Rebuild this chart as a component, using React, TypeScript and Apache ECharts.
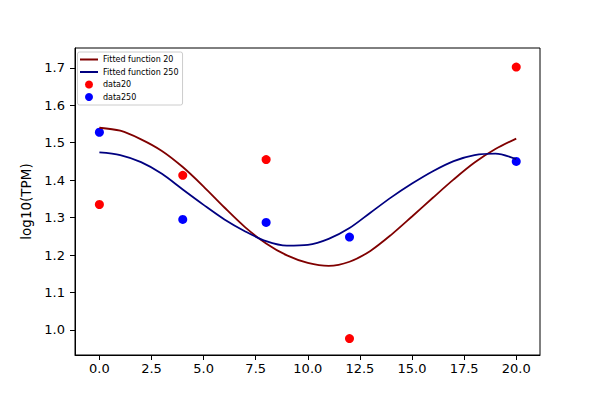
import React, { useEffect, useRef } from 'react';
import * as echarts from 'echarts';

// curve samples (hours 0..20)
const fitTimes = [0, 1, 2, 3, 4, 5, 6, 7, 8, 9, 10, 11, 12, 13, 14, 15, 16, 17, 18, 19, 20];
const fit20 = [1.540, 1.532, 1.509, 1.478, 1.435, 1.383, 1.327, 1.274, 1.231, 1.199, 1.179, 1.171, 1.182, 1.211, 1.254, 1.303, 1.353, 1.402, 1.447, 1.483, 1.511];
const fit250 = [1.474, 1.467, 1.448, 1.417, 1.375, 1.334, 1.295, 1.263, 1.237, 1.225, 1.227, 1.243, 1.272, 1.313, 1.354, 1.391, 1.424, 1.451, 1.467, 1.471, 1.456];

// measured points
const sampleTimes = [0, 4, 8, 12, 20];
const data20 = [1.335, 1.413, 1.455, 0.977, 1.702];
const data250 = [1.528, 1.295, 1.287, 1.248, 1.450];

const xTicks = [0, 2.5, 5, 7.5, 10, 12.5, 15, 17.5, 20];
const yTicks = [1.0, 1.1, 1.2, 1.3, 1.4, 1.5, 1.6, 1.7];

const FONT = 'DejaVu Sans';
// thin horizontal bar inside an 18x8 box (tiny corner marks keep the box size)
const LINE_ICON =
  'path://M0,0 L0.01,0 L0,0.01 Z M0,3.1 L18,3.1 L18,4.9 L0,4.9 Z M18,8 L17.99,8 L18,7.99 Z';

const App: React.FC = () => {
  const chartRef = useRef<HTMLDivElement>(null);

  useEffect(() => {
    document.body.style.margin = '0';
    if (!chartRef.current) return;
    const chart = echarts.init(chartRef.current, null, { renderer: 'svg' });

    const pair = (xs: number[], ys: number[]) => xs.map((x, i) => [x, ys[i]]);

    const option = {
      animation: false,
      backgroundColor: '#fff',
      textStyle: { fontFamily: FONT },
      grid: {
        left: 75,
        right: 60,
        top: 48,
        bottom: 45,
        show: true,
        borderColor: '#000',
        borderWidth: 1,
        backgroundColor: 'transparent'
      },
      legend: {
        orient: 'vertical',
        left: 77.5,
        top: 52,
        padding: [3.5, 4, 4, 2.5],
        itemWidth: 18,
        itemHeight: 8,
        itemGap: 4.5,
        borderColor: '#cccccc',
        borderWidth: 1,
        borderRadius: 2,
        backgroundColor: 'rgba(255,255,255,0.8)',
        textStyle: { fontSize: 8, color: '#000', fontFamily: FONT },
        data: [
          { name: 'Fitted function 20', icon: LINE_ICON },
          { name: 'Fitted function 250', icon: LINE_ICON },
          { name: 'data20', icon: 'circle' },
          { name: 'data250', icon: 'circle' }
        ]
      },
      xAxis: {
        type: 'value',
        min: -1.17,
        max: 21.14,
        splitLine: { show: false },
        axisLine: { show: true, onZero: false, lineStyle: { color: '#000', width: 1 } },
        axisTick: {
          show: true,
          inside: false,
          length: 5,
          lineStyle: { color: '#000', width: 1 },
          customValues: xTicks
        },
        axisLabel: {
          color: '#000',
          fontSize: 13,
          fontFamily: FONT,
          margin: 7,
          customValues: xTicks,
          formatter: (v: number) => v.toFixed(1)
        }
      },
      yAxis: {
        type: 'value',
        min: 0.933,
        max: 1.753,
        name: 'log10(TPM)',
        nameLocation: 'middle',
        nameGap: 36,
        nameTextStyle: { color: '#000', fontSize: 13.5, fontFamily: FONT },
        splitLine: { show: false },
        axisLine: { show: true, onZero: false, lineStyle: { color: '#000', width: 1 } },
        axisTick: {
          show: true,
          inside: false,
          length: 5,
          lineStyle: { color: '#000', width: 1 },
          customValues: yTicks
        },
        axisLabel: {
          color: '#000',
          fontSize: 13,
          fontFamily: FONT,
          margin: 10,
          customValues: yTicks,
          formatter: (v: number) => v.toFixed(1)
        }
      },
      series: [
        {
          name: 'Fitted function 20',
          type: 'line',
          data: pair(fitTimes, fit20),
          smooth: 0.3,
          symbol: 'none',
          color: '#800000',
          lineStyle: { color: '#800000', width: 1.8 }
        },
        {
          name: 'Fitted function 250',
          type: 'line',
          data: pair(fitTimes, fit250),
          smooth: 0.3,
          symbol: 'none',
          color: '#000080',
          lineStyle: { color: '#000080', width: 1.8 }
        },
        {
          name: 'data20',
          type: 'scatter',
          data: pair(sampleTimes, data20),
          symbol: 'circle',
          symbolSize: 9,
          itemStyle: { color: '#ff0000', opacity: 1 }
        },
        {
          name: 'data250',
          type: 'scatter',
          data: pair(sampleTimes, data250),
          symbol: 'circle',
          symbolSize: 9,
          itemStyle: { color: '#0000ff', opacity: 1 }
        }
      ]
    };

    chart.setOption(option);
    return () => {
      chart.dispose();
    };
  }, []);

  return <div ref={chartRef} style={{ width: '600px', height: '400px' }} />;
};

export default App;
